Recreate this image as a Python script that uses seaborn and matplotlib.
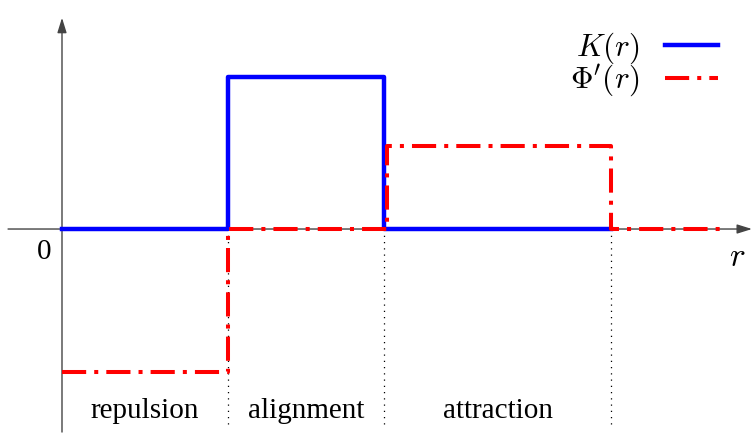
import matplotlib
matplotlib.use("Agg")
import matplotlib.pyplot as plt
import seaborn as sns

# piecewise constant kernels
r_K = [0.0, 1.0, 1.94, 3.31]
K_vals = [0.0, 1.0, 0.0, 0.0]
r_phi = [0.0, 1.0, 1.96, 3.31, 3.99]
phi_vals = [-0.94, 0.0, 0.546, 0.0, 0.0]
region_edges = [0.0, 1.0, 1.94, 3.31]
region_names = ["repulsion", "alignment", "attraction"]

plt.rcParams["font.family"] = ["Liberation Serif", "DejaVu Serif"]
plt.rcParams["mathtext.fontset"] = "cm"

fig = plt.figure(figsize=(7.54, 4.36), dpi=100)
ax = fig.add_axes([0, 0, 1, 1])
ax.set_xlim(-0.3735, 4.169)
ax.set_ylim(-1.362, 1.507)
ax.axis("off")

# coordinate axes with arrow heads
arrow = dict(arrowstyle="-|>,head_length=0.9,head_width=0.28", color="#444444",
             lw=1.0, shrinkA=0, shrinkB=0)
ax.annotate("", xy=(4.157, 0), xytext=(-0.325, 0), arrowprops=arrow, zorder=1)
ax.annotate("", xy=(0, 1.39), xytext=(0, -1.336), arrowprops=arrow, zorder=1)

# dotted separators between the regions
for e in region_edges[1:]:
    ax.plot([e, e], [0, -1.28], color="black", lw=0.9, ls=(0, (1, 4)), zorder=1)

sns.lineplot(x=r_K, y=K_vals, drawstyle="steps-post", sort=False, color="#0000ff",
             lw=3.2, label="$K(r)$", ax=ax, zorder=3)
sns.lineplot(x=r_phi, y=phi_vals, drawstyle="steps-post", sort=False, color="#ff0000",
             lw=2.9, ls=(0, (6, 2, 1, 2)), label="$\\Phi'(r)$", ax=ax, zorder=4)

for i, name in enumerate(region_names):
    mid = (region_edges[i] + region_edges[i + 1]) / 2
    ax.text(mid, -1.20, name, ha="center", va="center", fontsize=21)

ax.text(-0.105, -0.15, "0", ha="center", va="center", fontsize=21)
ax.text(4.07, -0.19, "$r$", ha="center", va="center", fontsize=24)

ax.legend(loc="upper right", bbox_to_anchor=(0.952, 0.93), markerfirst=False,
          frameon=False, fontsize=22.5, handlelength=1.7, labelspacing=-0.1,
          handletextpad=0.8, borderaxespad=0, borderpad=0)

fig.savefig("out.png", dpi=100)
